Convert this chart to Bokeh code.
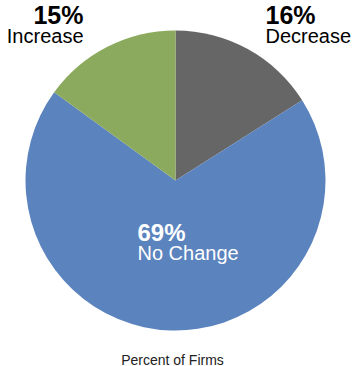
import math
from bokeh.plotting import figure
from bokeh.models import Range1d, ColumnDataSource
from bokeh.core.properties import value
from bokeh.embed import file_html
from bokeh.resources import INLINE

categories = ["Decrease", "No Change", "Increase"]
percents = [16, 69, 15]
colors = ["#666666", "#5B83BE", "#8BAA5E"]
title = "Percent of Firms"

W, H = 355, 366
p = figure(width=W, height=H, x_range=Range1d(0, W), y_range=Range1d(0, H),
           output_backend="svg", toolbar_location=None, min_border=0)
p.axis.visible = False
p.grid.visible = False
p.outline_line_color = None
p.background_fill_color = "white"

cx, cy, r = 175, H - 180, 150
total = sum(percents)
starts, ends = [], []
cum = 0
for v in percents:
    a0 = math.pi / 2 - 2 * math.pi * cum / total
    cum += v
    a1 = math.pi / 2 - 2 * math.pi * cum / total
    starts.append(a0)
    ends.append(a1)

src = ColumnDataSource(dict(start=starts, end=ends, color=colors))
p.wedge(x=cx, y=cy, radius=r, start_angle="start", end_angle="end",
        direction="clock", fill_color="color", line_color=None, source=src)

font = value("Liberation Sans")
# label placements: (x, pct top, cat top, align, color, pct size)
place = {
    "Decrease": (265, 0, 24, "left", "black", "25px"),
    "No Change": (137, 218, 241, "left", "white", "24px"),
    "Increase": (83, 0, 24, "right", "black", "25px"),
}
for cat, pct in zip(categories, percents):
    x, yt1, yt2, align, col, fs = place[cat]
    p.text(x=[x], y=[H - yt1], text=[f"{pct}%"], text_font=font,
           text_font_style="bold", text_font_size=fs, text_align=align,
           text_baseline="top", text_color=col)
    p.text(x=[x], y=[H - yt2], text=[cat], text_font=font,
           text_font_size="20px", text_align=align,
           text_baseline="top", text_color=col)

p.text(x=[172], y=[H - 351], text=[title], text_font=font,
       text_font_size="14px", text_align="center", text_baseline="top",
       text_color="#222222")

open("out.html", "w").write(file_html(p, INLINE))
